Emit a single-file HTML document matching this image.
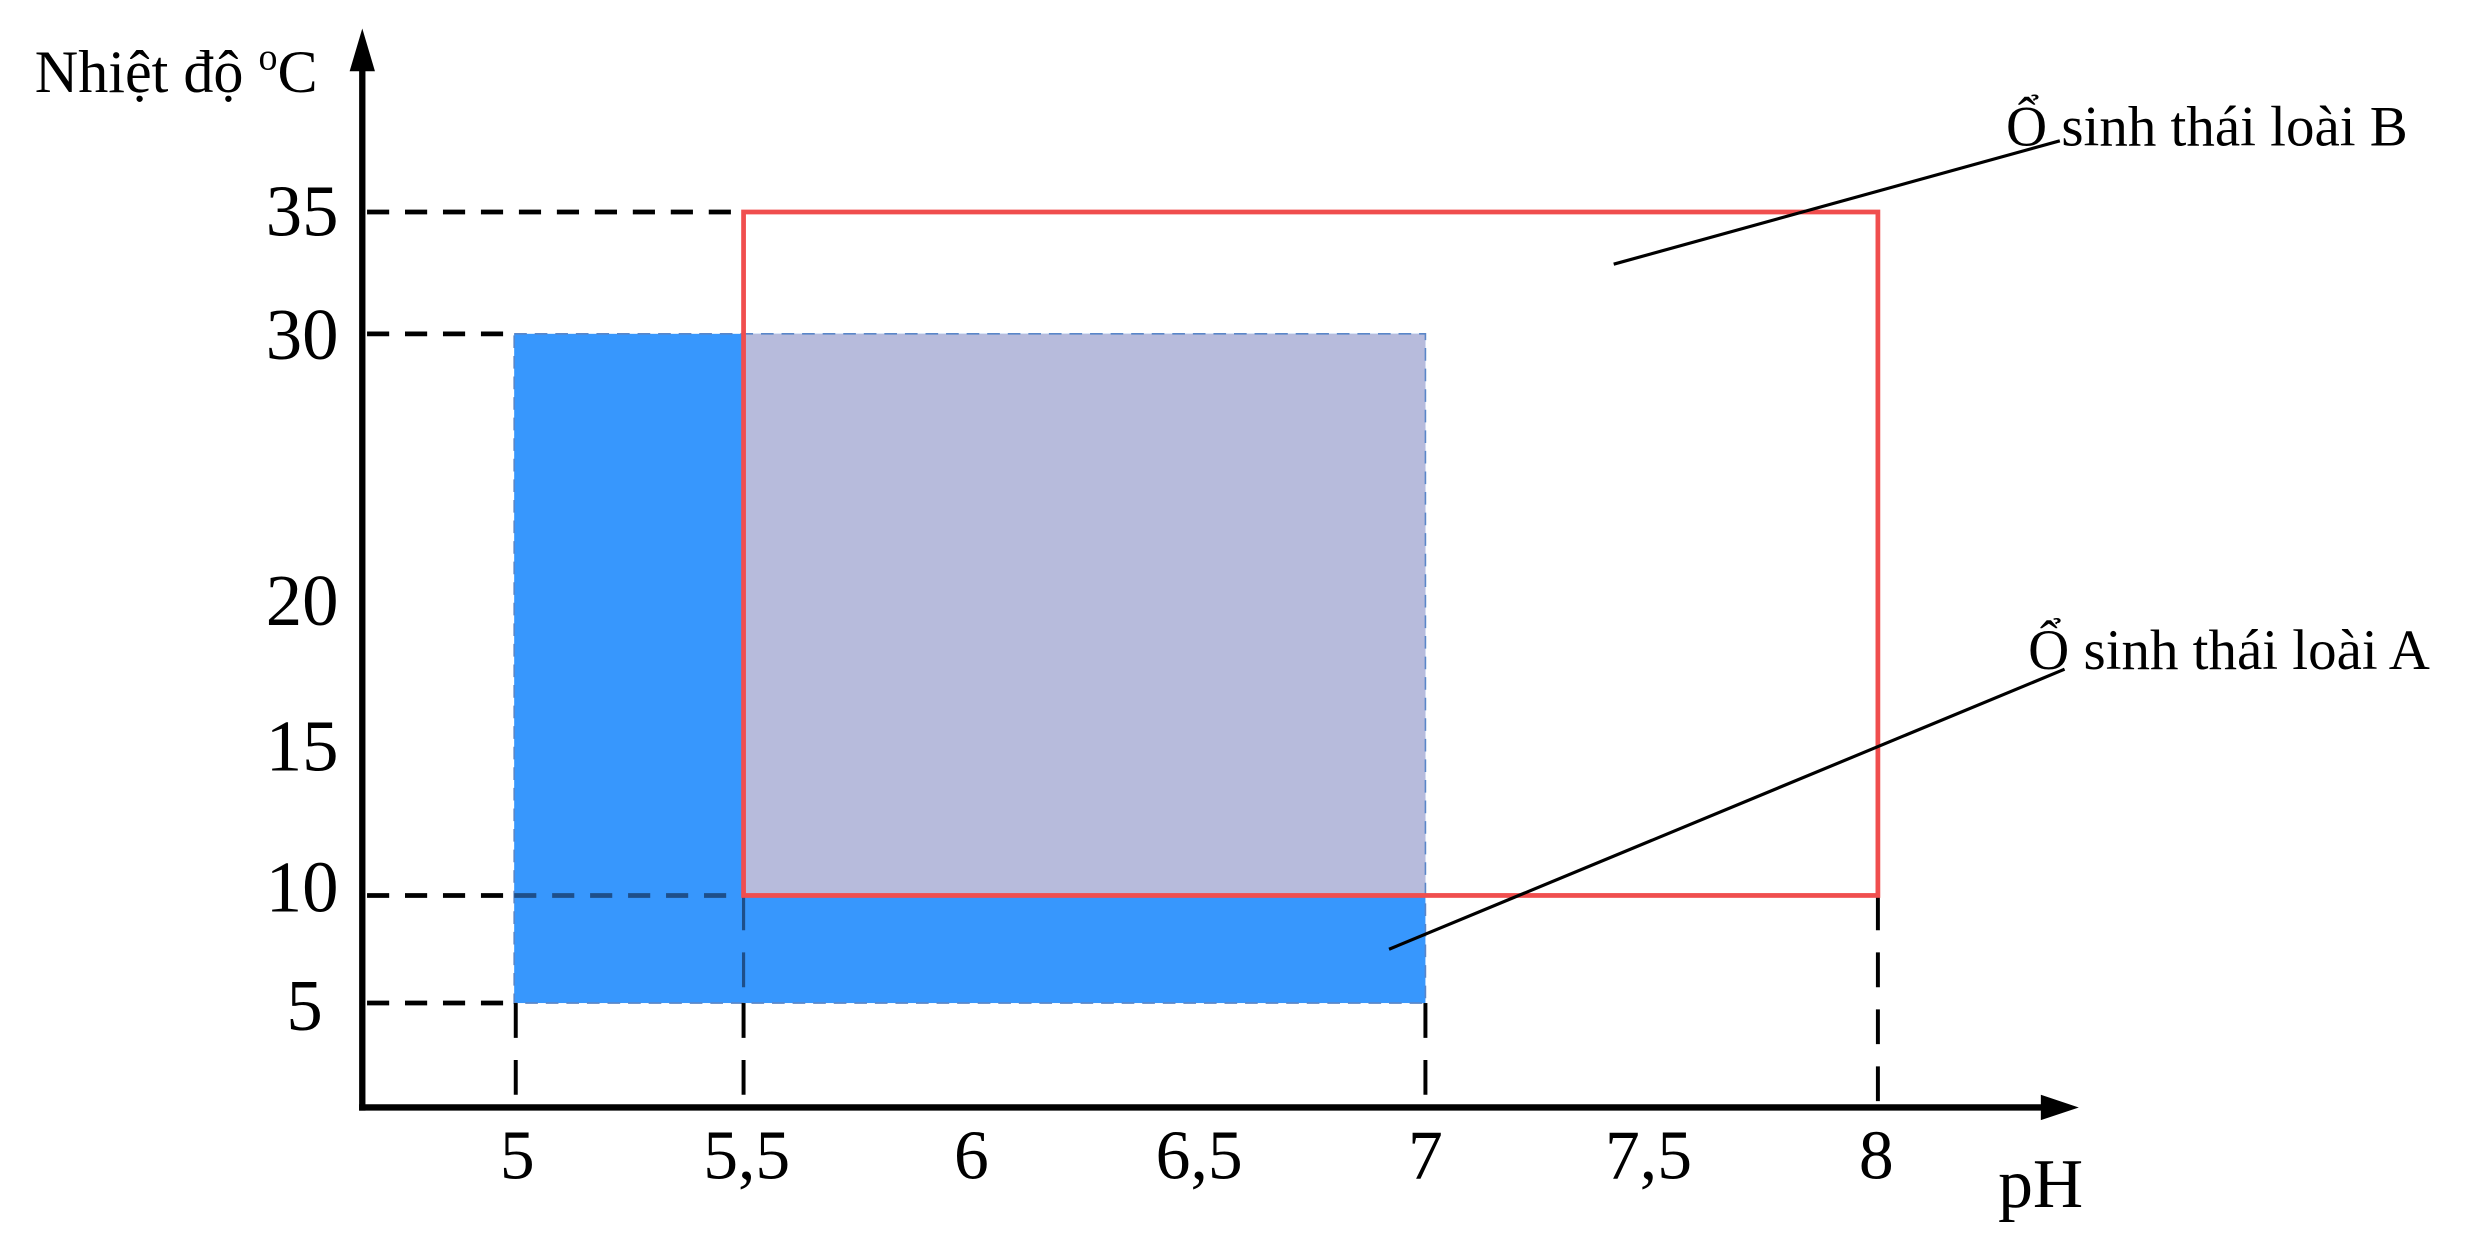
<!DOCTYPE html>
<html><head><meta charset="utf-8"><style>
html,body{margin:0;padding:0;background:#fff;}
svg{display:block;}
text{font-family:"Liberation Serif",serif;fill:#000;}
</style></head><body>
<svg width="2468" height="1247" viewBox="0 0 1560 788.2" preserveAspectRatio="none" xmlns="http://www.w3.org/2000/svg">
<rect x="325" y="211" width="576" height="423" fill="#3797fd"/>
<rect x="470" y="211" width="431" height="355" fill="#b7bbdc"/>
<rect x="325" y="211" width="576" height="423" fill="none" stroke="#5a86c8" stroke-width="1" stroke-dasharray="8,5"/>
<g stroke="#000" stroke-width="3" stroke-dasharray="14,10" fill="none">
<line x1="232" y1="134" x2="470" y2="134"/>
<line x1="232" y1="211" x2="325" y2="211"/>
<line x1="232" y1="566" x2="325" y2="566"/>
<line x1="232" y1="634" x2="325" y2="634"/>
</g>
<g stroke="#1e4f8a" stroke-width="3" stroke-dasharray="14,10" fill="none">
<line x1="325" y1="566" x2="470" y2="566"/>
</g>
<g stroke="#1e4f8a" stroke-width="2" stroke-dasharray="22,14" fill="none">
<line x1="470" y1="566" x2="470" y2="634"/>
</g>
<g stroke="#000" stroke-width="2.5" stroke-dasharray="22,14" fill="none">
<line x1="470" y1="634" x2="470" y2="700"/>
<line x1="326" y1="634" x2="326" y2="700"/>
<line x1="901" y1="634" x2="901" y2="700"/>
<line x1="1187" y1="566" x2="1187" y2="700"/>
</g>
<rect x="470" y="134" width="717" height="432" fill="none" stroke="#f04e4e" stroke-width="3"/>
<line x1="229" y1="40" x2="229" y2="702" stroke="#000" stroke-width="4"/>
<polygon points="229,18 221,45 237,45" fill="#000"/>
<line x1="227" y1="700" x2="1292" y2="700" stroke="#000" stroke-width="4"/>
<polygon points="1314,700 1290,692 1290,708" fill="#000"/>
<line x1="1020" y1="167" x2="1302" y2="89" stroke="#000" stroke-width="2"/>
<line x1="878" y1="600" x2="1305" y2="423" stroke="#000" stroke-width="2"/>
<text x="22" y="58" font-size="38">Nhiệt độ <tspan font-size="24" dy="-14">o</tspan><tspan dy="14">C</tspan></text>
<g font-size="46" text-anchor="end">
<text x="214" y="149">35</text>
<text x="214" y="227">30</text>
<text x="214" y="395">20</text>
<text x="214" y="487">15</text>
<text x="214" y="576">10</text>
<text x="204" y="651">5</text>
</g>
<g font-size="44" text-anchor="middle">
<text x="327" y="745">5</text>
<text x="472" y="745">5,5</text>
<text x="614" y="745">6</text>
<text x="758" y="745">6,5</text>
<text x="901" y="745">7</text>
<text x="1042" y="745">7,5</text>
<text x="1186" y="745">8</text>
</g>
<text x="1263" y="763" font-size="44">pH</text>
<text x="1268" y="92" font-size="36">Ổ sinh thái loài B</text>
<text x="1282" y="423" font-size="36">Ổ sinh thái loài A</text>
</svg>
</body></html>
